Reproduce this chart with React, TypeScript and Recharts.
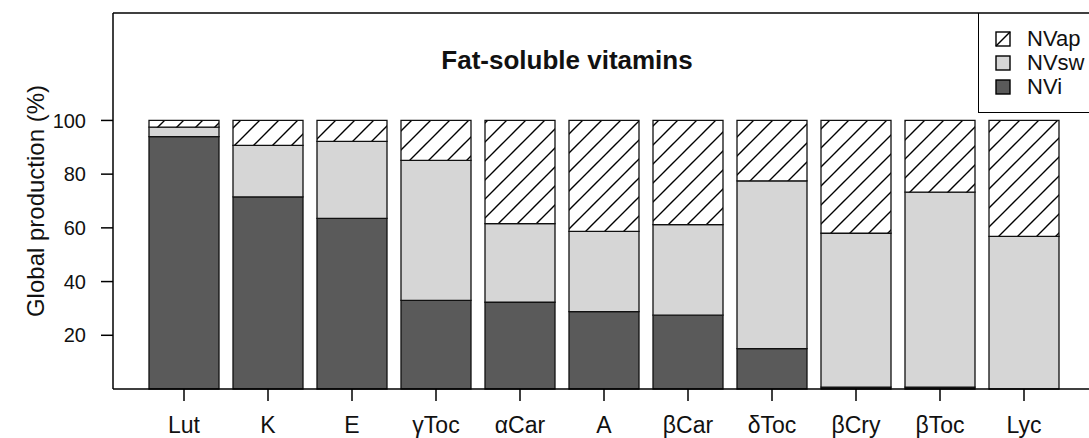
import { BarChart, Bar, XAxis, YAxis, ReferenceLine } from "recharts";

const categories = ["Lut", "K", "E", "γToc", "αCar", "A", "βCar", "δToc", "βCry", "βToc", "Lyc"];
const nvi = [94, 71.5, 63.5, 33, 32.3, 28.8, 27.5, 15, 0.7, 0.7, 0];
const nvsw = [3.5, 19.2, 28.7, 52.1, 29.3, 29.9, 33.7, 62.5, 57.3, 72.6, 56.8];
const nvap = [2.5, 9.3, 7.8, 14.9, 38.4, 41.3, 38.8, 22.5, 42, 26.7, 43.2];
const yTicks = [20, 40, 60, 80, 100];
const legendKeys = ["NVap", "NVsw", "NVi"];

const data = categories.map((name, i) => ({
  name,
  NVi: nvi[i],
  NVsw: nvsw[i],
  NVap: nvap[i],
}));

const font = "'Liberation Sans', Arial, sans-serif";
const dark = "#5a5a5a";
const light = "#d6d6d6";

function Swatch({ kind }: { kind: string }) {
  return (
    <svg width={16} height={16} style={{ display: "block" }}>
      <rect
        x={1}
        y={1}
        width={14}
        height={14}
        fill={kind === "NVi" ? dark : kind === "NVsw" ? light : "#fff"}
        stroke="#000"
        strokeWidth={1.4}
      />
      {kind === "NVap" && <line x1={1} y1={15} x2={15} y2={1} stroke="#000" strokeWidth={1.4} />}
    </svg>
  );
}

// legend drawn as a box hanging from the top border, like the R original
function LegendBox() {
  return (
    <div
      style={{
        position: "absolute",
        left: 978,
        top: 13,
        width: 140,
        height: 99,
        borderLeft: "1.5px solid #000",
        borderBottom: "1.5px solid #000",
        fontFamily: font,
        fontSize: 22,
        color: "#111",
      }}
    >
      {legendKeys.map((k, i) => (
        <div
          key={k}
          style={{ position: "absolute", left: 0, top: 14 + i * 24, height: 24, display: "flex", alignItems: "center" }}
        >
          <div style={{ marginLeft: 16 }}>
            <Swatch kind={k} />
          </div>
          <span style={{ marginLeft: 16, lineHeight: "22px" }}>{k}</span>
        </div>
      ))}
    </div>
  );
}

export default function App() {
  return (
    <div style={{ position: "absolute", left: 0, top: 0, width: 1089, height: 438, overflow: "hidden", background: "#fff" }}>
      <BarChart
        width={1120}
        height={438}
        data={data}
        margin={{ top: 13, right: 0, bottom: 0, left: 0 }}
        style={{ fontFamily: font }}
      >
        <defs>
          <pattern id="hatch" patternUnits="userSpaceOnUse" width={19} height={19}>
            <rect width={19} height={19} fill="#fff" />
            <path d="M-5,5 L5,-5 M0,19 L19,0 M14,24 L24,14" stroke="#000" strokeWidth={1.4} />
          </pattern>
        </defs>
        <XAxis
          dataKey="name"
          interval={0}
          height={49}
          padding={{ left: 29, right: 54 }}
          axisLine={{ stroke: "#000", strokeWidth: 1.5 }}
          tickLine={{ stroke: "#000", strokeWidth: 1.5 }}
          tickSize={12}
          tickMargin={16}
          tick={{ fontSize: 23, fill: "#111" }}
        />
        <YAxis
          width={113}
          domain={[0, 140]}
          ticks={yTicks}
          axisLine={{ stroke: "#000", strokeWidth: 1.5 }}
          tickLine={{ stroke: "#000", strokeWidth: 1.5 }}
          tickSize={12}
          tickMargin={15}
          tick={{ fontSize: 20, fill: "#111" }}
          label={{
            value: "Global production (%)",
            angle: -90,
            position: "center",
            dx: -21,
            style: { fontSize: 24, fill: "#111", fontFamily: font },
          }}
        />
        <ReferenceLine y={140} stroke="#000" strokeWidth={1.5} />
        <Bar dataKey="NVi" stackId="a" fill={dark} stroke="#111" strokeWidth={1.3} barSize={70} isAnimationActive={false} />
        <Bar dataKey="NVsw" stackId="a" fill={light} stroke="#111" strokeWidth={1.3} barSize={70} isAnimationActive={false} />
        <Bar dataKey="NVap" stackId="a" fill="url(#hatch)" stroke="#111" strokeWidth={1.3} barSize={70} isAnimationActive={false} />
      </BarChart>
      <LegendBox />
      <div
        style={{
          position: "absolute",
          left: 567,
          top: 47,
          transform: "translateX(-50%)",
          whiteSpace: "nowrap",
          fontFamily: font,
          fontWeight: "bold",
          fontSize: 26,
          lineHeight: "26px",
          color: "#111",
        }}
      >
        Fat-soluble vitamins
      </div>
    </div>
  );
}
